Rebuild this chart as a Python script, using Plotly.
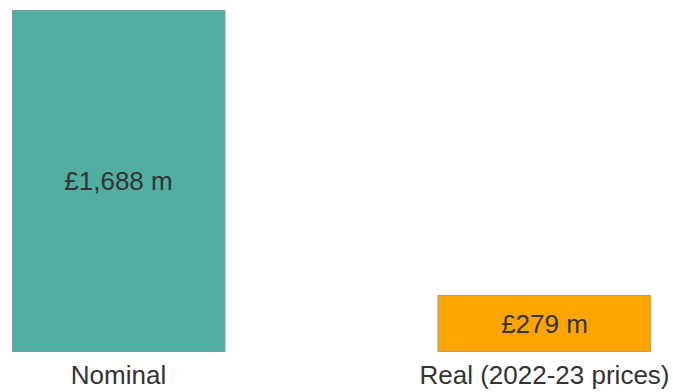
import plotly.graph_objects as go

categories = ["Nominal", "Real (2022-23 prices)"]
values = [1688, 279]
value_labels = ["£1,688 m", "£279 m"]
bar_colors = ["#52AEA0", "#FFA500"]

fig = go.Figure(
    go.Bar(
        x=categories,
        y=values,
        text=value_labels,
        textposition="inside",
        insidetextanchor="middle",
        textangle=0,
        textfont=dict(family="Liberation Sans, Arial, sans-serif", size=26, color="#333333"),
        marker=dict(color=bar_colors, line=dict(color="#9a9a9a", width=1)),
        width=0.5,
        hoverinfo="skip",
    )
)

fig.update_layout(
    width=673,
    height=392,
    margin=dict(l=12, r=22, t=10, b=40, autoexpand=False),
    paper_bgcolor="white",
    plot_bgcolor="white",
    showlegend=False,
    uniformtext=dict(minsize=8, mode="show"),
    font=dict(family="Liberation Sans, Arial, sans-serif", size=26, color="#333333"),
)
fig.update_xaxes(
    range=[-0.25, 1.25],
    automargin=False,
    showgrid=False,
    showline=False,
    zeroline=False,
    ticks="",
    ticklabelstandoff=5,
    tickfont=dict(size=26, color="#333333"),
)
fig.update_yaxes(
    range=[0, 1688],
    automargin=False,
    visible=False,
    showgrid=False,
    zeroline=False,
)

fig.write_html(
    "out.html",
    config={"displayModeBar": False, "staticPlot": True},
    post_script="document.body.style.margin='0';document.body.style.overflow='hidden';",
)
